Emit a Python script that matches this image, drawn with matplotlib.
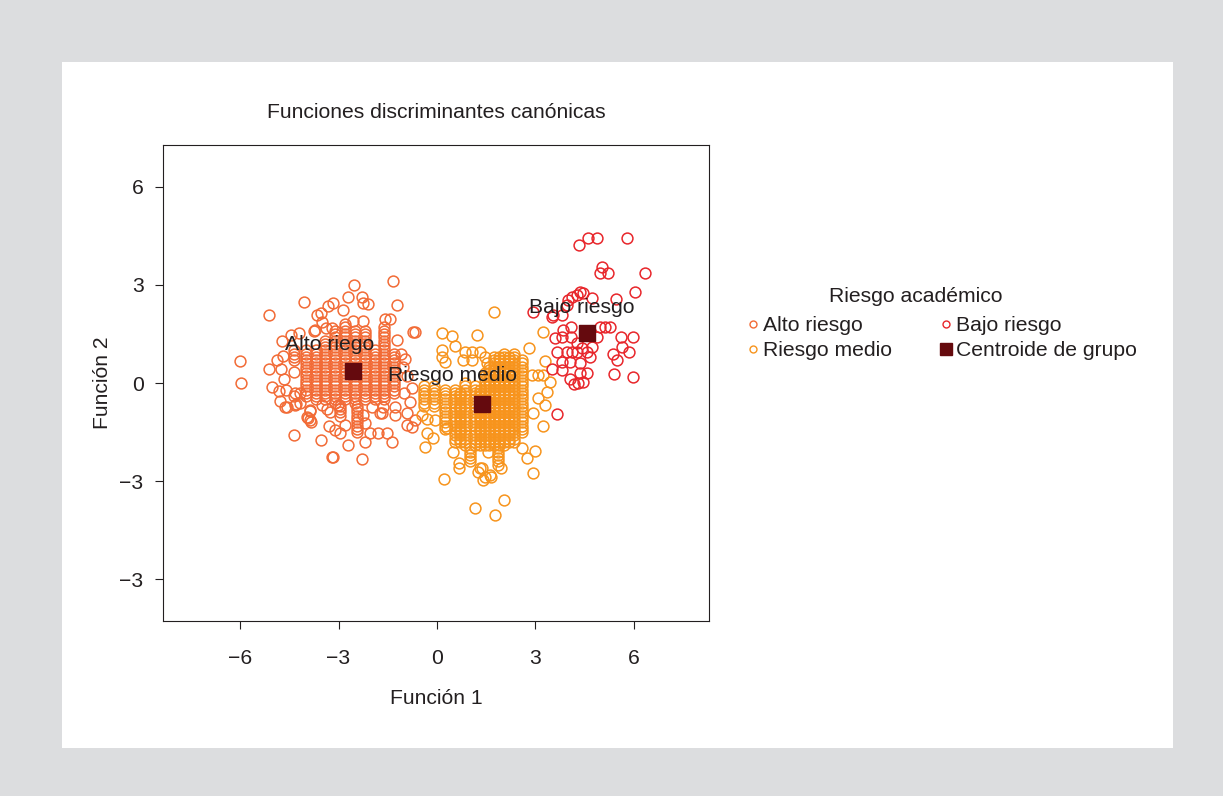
import numpy as np
import matplotlib
matplotlib.use("Agg")
import matplotlib.pyplot as plt
from matplotlib.lines import Line2D
from matplotlib.patches import Rectangle

plt.rcParams['font.family'] = ['Liberation Sans', 'DejaVu Sans']

# ---------------- data ----------------
title = "Funciones discriminantes canónicas"
xlabel = "Función 1"
ylabel = "Función 2"
x_ticks = [-6, -3, 0, 3, 6]
x_tick_labels = ["−6", "−3", "0", "3", "6"]
y_ticks = [6, 3, 0, -3, -6]
y_tick_labels = ["6", "3", "0", "−3", "−3"]
legend_title = "Riesgo académico"
group_names = ["Alto riesgo", "Riesgo medio", "Bajo riesgo", "Centroide de grupo"]
group_labels = ["Alto riego", "Riesgo medio", "Bajo riesgo"]

# Alto riesgo: dense stacked columns (x, list of y)
alto_col_x = [-4.35, -4.0, -3.7, -3.4, -3.1, -2.8, -2.5, -2.2, -1.9, -1.6, -1.3, -2.44, -2.95]
alto_col_y = [
    [1.0, 0.9, 0.8, 0.7],
    [1.0, 0.9, 0.8, 0.7, 0.6, 0.5, 0.4, 0.3, 0.2, 0.1, 0.0, -0.1, -0.2, -0.3, -0.4],
    [1.0, 0.9, 0.8, 0.7, 0.6, 0.5, 0.4, 0.3, 0.2, 0.1, 0.0, -0.1, -0.2, -0.3, -0.4, -0.5],
    [1.3, 1.2, 1.1, 1.0, 0.9, 0.8, 0.7, 0.6, 0.5, 0.4, 0.3, 0.2, 0.1, 0.0, -0.1, -0.2, -0.3, -0.4, -0.5],
    [1.6, 1.5, 1.4, 1.3, 1.2, 1.1, 1.0, 0.9, 0.8, 0.7, 0.6, 0.5, 0.4, 0.3, 0.2, 0.1, 0.0, -0.1, -0.2, -0.3, -0.4, -0.5, -0.6],
    [1.8, 1.7, 1.6, 1.5, 1.4, 1.3, 1.2, 1.1, 1.0, 0.9, 0.8, 0.7, 0.6, 0.5, 0.4, 0.3, 0.2, 0.1, 0.0, -0.1, -0.2, -0.3, -0.4, -0.5],
    [1.6, 1.5, 1.4, 1.3, 1.2, 1.1, 1.0, 0.9, 0.8, 0.7, 0.6, 0.5, 0.4, 0.3, 0.2, 0.1, 0.0, -0.1, -0.2, -0.3, -0.4, -0.5, -0.6],
    [1.6, 1.5, 1.4, 1.3, 1.2, 1.1, 1.0, 0.9, 0.8, 0.7, 0.6, 0.5, 0.4, 0.3, 0.2, 0.1, 0.0, -0.1, -0.2, -0.3, -0.4, -0.5],
    [1.0, 0.9, 0.8, 0.7, 0.6, 0.5, 0.4, 0.3, 0.2, 0.1, 0.0, -0.1, -0.2, -0.3, -0.4, -0.5],
    [1.7, 1.6, 1.5, 1.4, 1.3, 1.2, 1.1, 1.0, 0.9, 0.8, 0.7, 0.6, 0.5, 0.4, 0.3, 0.2, 0.1, 0.0, -0.1, -0.2, -0.3, -0.4, -0.5],
    [0.9, 0.8, 0.7, 0.6, 0.5, 0.4, 0.3, 0.2, 0.1, 0.0, -0.1, -0.2, -0.3],
    [-0.7, -0.8, -0.9, -1.0, -1.1, -1.2, -1.3, -1.4, -1.5],
    [-0.7, -0.8, -0.9, -1.0],
]
alto_x = [-6.0, -5.98, -5.13, -4.73, -4.45, -4.2, -3.75, -3.52, -3.33, -3.39, -4.88, -5.13,
          -4.76, -4.69, -4.35, -4.66, -5.03, -4.81, -4.61, -4.79, -4.57, -4.37, -4.31, -4.17,
          -4.17, -4.32, -4.35, -3.86, -3.93, -3.84, -3.54, -3.5, -3.35, -3.28, -3.21,
          -4.05, -2.53, -1.34, -2.71, -2.29, -2.26, -2.1, -2.87, -3.17, -1.22, -1.59, -1.43,
          -0.67, -2.56, -2.26, -1.22, -0.98, -1.04, -3.66, -3.51, -3.72, -3.2, -0.73,
          -0.76, -0.82, -0.91, -0.76, -1.68, -2.2, -2.8, -3.11, -2.04, -1.8, -1.52, -1.37,
          -2.2, -2.71, -2.29, -3.17, -4.63, -4.33, -3.87, -3.87, -3.96, -2.96, -1.74, -1.28,
          -0.91, -0.67, -3.26, -3.02, -2.26, -1.98, -1.65, -1.28, -1.1, -0.9, -1.0]
alto_y = [0.67, 0.0, 2.07, 1.29, 1.46, 1.52, 1.59, 2.13, 2.35, 1.69, 0.70, 0.43,
          0.43, 0.83, 0.35, 0.11, -0.11, -0.24, -0.22, -0.55, -0.74, -0.40, -0.64, -0.31,
          -0.6, -0.3, -1.59, -0.87, -1.08, -1.18, -1.74, -0.67, -0.8, -1.31, -2.25,
          2.48, 3.0, 3.12, 2.63, 2.63, 2.45, 2.42, 2.23, 2.45, 2.39, 1.96, 1.96,
          1.56, 1.9, 1.9, 1.31, 0.73, 0.49, 2.08, 1.87, 1.62, 1.68, 1.56,
          -0.15, -0.58, -0.92, -1.35, -0.92, -1.22, -1.28, -1.44, -1.53, -1.53, -1.53, -1.8,
          -1.8, -1.9, -2.32, -2.26, -0.73, -0.67, -0.83, -1.13, -1.04, -1.53, -0.92, -0.98,
          -1.28, -1.13, -0.89, -0.67, -0.98, -0.73, -0.73, -0.73, 0.9, 0.2, -0.3]

# Riesgo medio: dense stacked columns
medio_col_x = [-0.4, -0.1, 0.25, 0.55, 0.7, 0.85, 1.15, 1.3, 1.45, 1.6, 1.75, 1.9, 2.05, 2.2,
               2.35, 2.6, 1.0, 1.85]
medio_col_y = [
    [-0.1, -0.2, -0.3, -0.4, -0.5, -0.6, -0.7],
    [-0.1, -0.2, -0.3, -0.4, -0.5, -0.6, -0.7],
    [-0.2, -0.3, -0.4, -0.5, -0.6, -0.7, -0.8, -0.9, -1.0, -1.1, -1.2, -1.3, -1.4],
    [-0.2, -0.3, -0.4, -0.5, -0.6, -0.7, -0.8, -0.9, -1.0, -1.1, -1.2, -1.3, -1.4, -1.5, -1.6, -1.7, -1.8],
    [-0.3, -0.4, -0.5, -0.6, -0.7, -0.8, -0.9, -1.0, -1.1, -1.2, -1.3, -1.4, -1.5, -1.6, -1.7, -1.8],
    [0.0, -0.1, -0.2, -0.3, -0.4, -0.5, -0.6, -0.7, -0.8, -0.9, -1.0, -1.1, -1.2, -1.3, -1.4, -1.5, -1.6, -1.7, -1.8, -1.9],
    [-0.1, -0.2, -0.3, -0.4, -0.5, -0.6, -0.7, -0.8, -0.9, -1.0, -1.1, -1.2, -1.3, -1.4, -1.5, -1.6, -1.7, -1.8, -1.9],
    [-0.2, -0.3, -0.4, -0.5, -0.6, -0.7, -0.8, -0.9, -1.0, -1.1, -1.2, -1.3, -1.4, -1.5, -1.6, -1.7, -1.8, -1.9],
    [0.3, 0.2, 0.1, 0.0, -0.1, -0.2, -0.3, -0.4, -0.5, -0.6, -0.7, -0.8, -0.9, -1.0, -1.1, -1.2, -1.3, -1.4, -1.5, -1.6, -1.7, -1.8, -1.9],
    [0.5, 0.4, 0.3, 0.2, 0.1, 0.0, -0.1, -0.2, -0.3, -0.4, -0.5, -0.6, -0.7, -0.8, -0.9, -1.0, -1.1, -1.2, -1.3, -1.4, -1.5, -1.6, -1.7, -1.8, -1.9],
    [0.8, 0.7, 0.6, 0.5, 0.4, 0.3, 0.2, 0.1, 0.0, -0.1, -0.2, -0.3, -0.4, -0.5, -0.6, -0.7, -0.8, -0.9, -1.0, -1.1, -1.2, -1.3, -1.4, -1.5, -1.6, -1.7, -1.8, -1.9],
    [0.8, 0.7, 0.6, 0.5, 0.4, 0.3, 0.2, 0.1, 0.0, -0.1, -0.2, -0.3, -0.4, -0.5, -0.6, -0.7, -0.8, -0.9, -1.0, -1.1, -1.2, -1.3, -1.4, -1.5, -1.6, -1.7, -1.8, -1.9],
    [0.9, 0.8, 0.7, 0.6, 0.5, 0.4, 0.3, 0.2, 0.1, 0.0, -0.1, -0.2, -0.3, -0.4, -0.5, -0.6, -0.7, -0.8, -0.9, -1.0, -1.1, -1.2, -1.3, -1.4, -1.5, -1.6, -1.7, -1.8, -1.9],
    [0.8, 0.7, 0.6, 0.5, 0.4, 0.3, 0.2, 0.1, 0.0, -0.1, -0.2, -0.3, -0.4, -0.5, -0.6, -0.7, -0.8, -0.9, -1.0, -1.1, -1.2, -1.3, -1.4, -1.5, -1.6, -1.7, -1.8],
    [0.9, 0.8, 0.7, 0.6, 0.5, 0.4, 0.3, 0.2, 0.1, 0.0, -0.1, -0.2, -0.3, -0.4, -0.5, -0.6, -0.7, -0.8, -0.9, -1.0, -1.1, -1.2, -1.3, -1.4, -1.5, -1.6, -1.7, -1.8],
    [0.7, 0.6, 0.5, 0.4, 0.3, 0.2, 0.1, 0.0, -0.1, -0.2, -0.3, -0.4, -0.5, -0.6, -0.7, -0.8, -0.9, -1.0, -1.1, -1.2, -1.3, -1.4, -1.5],
    [-2.0, -2.1, -2.2, -2.3, -2.4],
    [-2.0, -2.1, -2.2, -2.3, -2.4, -2.5],
]
medio_x = [0.15, 0.46, 1.22, 0.55, 0.15, 0.15, 0.24, 0.85, 1.07, 1.31, 0.79, 1.07, 1.46, 1.52,
           2.8, 3.23, 3.08, 2.93, 3.23, 2.99, 2.74, 2.93, -0.37, -0.12, -0.3, -0.06, -0.3, 0.3,
           0.49, 0.67, 0.67, 0.21, 1.31, 1.46, 1.4, 1.65, 1.95, 1.16, 2.04, 1.77, -0.46, 1.74,
           3.29, 3.44, 3.35, 3.29, 2.9, 3.08, 3.23, 1.37, 1.25, 1.55, 2.59, 1.62]
medio_y = [1.53, 1.44, 1.47, 1.13, 1.01, 0.8, 0.64, 0.95, 0.95, 0.95, 0.7, 0.7, 0.8, 0.61,
           1.07, 1.56, -0.46, -0.92, -1.31, -2.08, -2.29, -2.75, -1.96, -1.68, -1.53, -1.13, -1.1, -1.38,
           -2.11, -2.45, -2.6, -2.94, -2.6, -2.87, -2.97, -2.87, -2.6, -3.82, -3.58, -4.04, -0.98, 2.17,
           0.67, 0.03, -0.28, -0.67, 0.24, 0.24, 0.24, -2.6, -2.72, -2.11, -1.99, -2.81]

bajo_x = [4.33, 4.6, 4.88, 5.79, 5.03, 4.97, 5.21, 6.34, 6.04, 5.46, 4.73, 4.45, 4.36, 4.27,
          4.12, 3.99, 3.96, 3.54, 3.81, 2.93, 3.5, 3.84, 4.08, 4.97, 5.12, 5.27, 3.81, 3.6,
          4.08, 4.88, 5.61, 5.98, 3.66, 3.96, 4.12, 4.27, 4.27, 4.42, 4.73, 4.57, 5.37, 5.49,
          5.64, 5.85, 4.66, 3.81, 4.05, 4.36, 3.5, 3.81, 4.36, 4.57, 4.05, 4.3, 4.45, 4.18,
          5.4, 5.98, 3.66]
bajo_y = [4.22, 4.43, 4.43, 4.43, 3.55, 3.36, 3.36, 3.36, 2.78, 2.57, 2.6, 2.75, 2.78, 2.69,
          2.63, 2.54, 2.39, 2.08, 2.08, 2.17, 2.02, 1.62, 1.71, 1.71, 1.71, 1.71, 1.41, 1.38,
          1.41, 1.41, 1.41, 1.41, 0.95, 0.95, 0.95, 0.95, 1.22, 1.07, 1.1, 0.95, 0.89, 0.7,
          1.1, 0.95, 0.8, 0.64, 0.64, 0.61, 0.43, 0.4, 0.31, 0.31, 0.12, 0.0, 0.03, -0.03,
          0.28, 0.18, -0.95]

centroid_x = [-2.56, 1.37, 4.57]
centroid_y = [0.37, -0.64, 1.53]
label_x = [-3.26, 0.46, 4.42]
label_y = [1.19, 0.24, 2.32]

# ---------------- styling ----------------
c_alto = "#F26B36"
c_medio = "#F7941D"
c_bajo = "#E8262B"
c_cent = "#650A0E"
bg = "#DCDDDF"
fs = 15.2
tc = "#231F20"

W, H = 1223, 796
fig = plt.figure(figsize=(W / 100, H / 100), dpi=100, facecolor=bg)
fig.patches.append(Rectangle((62 / W, 1 - 748 / H), 1111 / W, 686 / H,
                             transform=fig.transFigure, facecolor="white",
                             edgecolor="none", zorder=-10))

ax = fig.add_axes([163 / W, 1 - 621 / H, 546 / W, 476 / H])
ax.set_zorder(1)
ax.set_xlim(-8.35, 8.29)
ax.set_ylim(-7.28, 7.28)


def expand(cx, cy):
    xs, ys = [], []
    for x, col in zip(cx, cy):
        xs.extend([x] * len(col))
        ys.extend(col)
    return xs, ys


ax_x, ax_y = expand(alto_col_x, alto_col_y)
mx, my = expand(medio_col_x, medio_col_y)

mk = dict(marker="o", linestyle="none", markersize=7.8, markerfacecolor="none",
          markeredgewidth=1.1)
ax.plot(ax_x + alto_x, ax_y + alto_y, markeredgecolor=c_alto, **mk)
ax.plot(mx + medio_x, my + medio_y, markeredgecolor=c_medio, **mk)
ax.plot(bajo_x, bajo_y, markeredgecolor=c_bajo, **mk)
ax.plot(centroid_x, centroid_y, marker="s", linestyle="none", markersize=11.5,
        color=c_cent, zorder=5)
for lx, ly, t in zip(label_x, label_y, group_labels):
    ax.text(lx, ly, t, ha="center", va="center", fontsize=fs, color=tc, zorder=6)

ax.set_xticks(x_ticks)
ax.set_xticklabels(x_tick_labels)
ax.set_yticks(y_ticks)
ax.set_yticklabels(y_tick_labels)
ax.tick_params(axis="both", length=6, width=0.8, labelsize=fs, colors=tc)
ax.tick_params(axis="x", pad=14)
ax.tick_params(axis="y", pad=8)
for s in ax.spines.values():
    s.set_linewidth(0.8)
    s.set_color(tc)

fig.text(436 / W, 1 - 112 / H, title, ha="center", va="center", fontsize=fs, color=tc)
fig.text(436 / W, 1 - 698 / H, xlabel, ha="center", va="center", fontsize=fs, color=tc)
fig.text(103 / W, 1 - 383 / H, ylabel, ha="center", va="center", rotation=90,
         fontsize=fs, color=tc)

# legend
fig.text(916 / W, 1 - 297 / H, legend_title, ha="center", va="center", fontsize=fs, color=tc)
handles = [
    Line2D([], [], marker="o", linestyle="none", markersize=5, markerfacecolor="none",
           markeredgecolor=c_alto, markeredgewidth=1.0),
    Line2D([], [], marker="o", linestyle="none", markersize=5, markerfacecolor="none",
           markeredgecolor=c_medio, markeredgewidth=1.0),
    Line2D([], [], marker="o", linestyle="none", markersize=5, markerfacecolor="none",
           markeredgecolor=c_bajo, markeredgewidth=1.0),
    Line2D([], [], marker="s", linestyle="none", markersize=9, color=c_cent),
]
leg = fig.legend(handles, group_names, ncol=2, loc="upper left",
                 bbox_to_anchor=(746 / W, 1 - 316 / H), frameon=False, fontsize=fs,
                 handlelength=0.7, handletextpad=0.12, columnspacing=2.2,
                 labelspacing=0.3, borderpad=0, borderaxespad=0)
for t in leg.get_texts():
    t.set_color(tc)

fig.savefig("out.png", dpi=100, facecolor=bg)
